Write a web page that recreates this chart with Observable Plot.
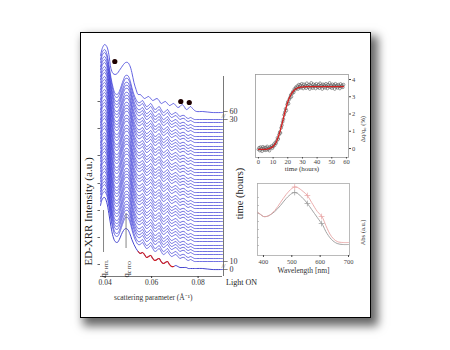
<!DOCTYPE html>
<html><head><meta charset="utf-8">
<script src="https://cdn.jsdelivr.net/npm/d3@7"></script>
<script src="https://cdn.jsdelivr.net/npm/@observablehq/plot@0.6"></script>
<style>
html,body{margin:0;padding:0;background:#fff;width:450px;height:350px;overflow:hidden;position:relative;}
#frame{position:absolute;left:80px;top:32px;width:291px;height:286px;box-sizing:border-box;border:1.5px solid #000;background:#fff;box-shadow:5px 6px 9px 2px rgba(0,0,0,0.6);}
.p{position:absolute;}
.p svg{overflow:visible;}
</style></head><body>
<div id="frame"></div>
<div id="main" class="p" style="left:80px;top:32px"></div>
<div id="ins1" class="p" style="left:240px;top:66px"></div>
<div id="ins2" class="p" style="left:240px;top:175px"></div>
<script>
// ---------- main waterfall (ED-XRR) ----------
const qGrid = [0.0380,0.0389,0.0398,0.0407,0.0416,0.0425,0.0434,0.0443,0.0452,0.0461,
  0.0470,0.0479,0.0488,0.0497,0.0506,0.0515,0.0524,0.0533,0.0542,0.0551,
  0.0560,0.0569,0.0578,0.0587,0.0596,0.0605,0.0614,0.0623,0.0632,0.0641,
  0.0650,0.0659,0.0668,0.0677,0.0686,0.0695,0.0704,0.0713,0.0722,0.0731,
  0.0740,0.0749,0.0758,0.0767,0.0776,0.0785,0.0794,0.0820,0.0860,0.0905];
// 60 h curve (top)
const curve60h = [221,229,232,230,222,208,203,202,203,206,
  209,212,214,214,211,204,194,187,182,182,
  180,178,179,180,178,176,177,178,176,173,
  174,175,173,171,172,173,171,169,170,172,
  170,167,168,170,168,166,165,165,164,164];
// 0 h curve (bottom, light ON)
const curve0h = [71,78,79,74,63,50,40,35,34,37,
  42,46,48,47,43,37,32,28,25,23,
  24,22,19,20,21,18,16,17,18,15,
  13,14,15,12,10,10,11,10,9,9,
  9,9,8,8,8,8,8,8,7,7];
// profile of the intermediate scans (height above their flat tail)
const scanProfile = [60,68,70,66,55,42,32,26,25,28,
  34,40,44,44,40,32,25,20,17,17,
  19,16,13,14,16,13,10,11,13,10,
  7,8,10,7,5,6,7,5,3,4,
  4,2,1,2,1,0,0,0,0,0];
// tail levels of the scans from 30 h (top) down to 10 h (bottom)
const scanLevels = [157,154,150,147,144,140,137,134,130,127,124,121,117,114,111,
  107,104,101,97,94,91,88,84,81,78,74,71,68,64,61,58,55,51,48,45,41,38,35,31,28,25,22,18,15];
const markerQ = [0.04415,0.07255,0.0762];
const markerV = [215,175,174];
const xTicks = [0.04,0.06,0.08];
const leftTicks = [175,148,121,93,66,39,12];
const timeLabels = ["60","30","10","0"];
const timeLevels = [165,157,15,7];
const breakLevels = [161,11];
const qcNames = ["HTL","ITO"];
const qcQ = [0.0393,0.0490];
const qcTop = [66,63];
const qcBottom = [24,28];

const serif = "'Liberation Serif', 'Times New Roman', serif";
const xMax = 0.0905;
const scans = [];
scanLevels.forEach((lv, i) => qGrid.forEach((q, j) => scans.push({id: i, q, v: lv + scanProfile[j]})));
const top60 = qGrid.map((q, j) => ({q, v: curve60h[j]}));
const bot0 = qGrid.map((q, j) => ({q, v: curve0h[j]}));
const fitSeg = bot0.slice(18, 36);
const markers = markerQ.map((q, i) => ({q, v: markerV[i]}));
const tTicks = timeLabels.map((l, i) => ({label: l, level: timeLevels[i]}));
const qc = qcNames.map((n, i) => ({name: "qc " + n, q: qcQ[i], y1: qcBottom[i], y2: qcTop[i]}));

const main = Plot.plot({
  width: 180, height: 280, marginLeft: 20, marginRight: 38, marginTop: 8, marginBottom: 36,
  style: {background: "none", fontFamily: serif, overflow: "visible"},
  x: {domain: [0.038, xMax], axis: null},
  y: {domain: [0, 236], axis: null},
  marks: [
    Plot.line(scans, {x: "q", y: "v", z: "id", stroke: "#3434d6", strokeWidth: 0.7, curve: "catmull-rom"}),
    Plot.line(top60, {x: "q", y: "v", stroke: "#4848dc", strokeWidth: 0.85, curve: "catmull-rom"}),
    Plot.line(bot0, {x: "q", y: "v", stroke: "#3030c8", strokeWidth: 0.9, curve: "catmull-rom"}),
    Plot.line(fitSeg, {x: "q", y: "v", stroke: "#d42222", strokeWidth: 1.1, curve: "catmull-rom"}),
    Plot.dot(markers, {x: "q", y: "v", r: 2.6, fill: "#1e0000", stroke: "none"}),
    Plot.ruleY([0], {x1: 0.038, x2: xMax, stroke: "#555", strokeWidth: 0.8}),
    Plot.axisX({ticks: xTicks, tickFormat: d3.format(".2f"), tickSize: 2, tickPadding: 1.5, fontSize: 7.5, label: null, color: "#333"}),
    Plot.axisY({anchor: "left", ticks: leftTicks, tickSize: 2.5, tickFormat: () => "", label: null, color: "#666"}),
    // time axis on the right
    Plot.ruleX([xMax], {y1: 0, y2: 200, dx: 1, stroke: "#555", strokeWidth: 0.8}),
    Plot.ruleY(tTicks, {y: "level", x1: xMax, x2: 0.0925, dx: 1, stroke: "#555", strokeWidth: 0.7}),
    Plot.text(tTicks, {x: xMax, y: "level", text: "label", dx: 7, textAnchor: "start", fontSize: 8, fill: "#333"}),
    Plot.text(breakLevels, {x: xMax, y: d => d, text: () => "//", dx: 1, fontSize: 7, fill: "#555"}),
    Plot.text(["time (hours)"], {x: xMax, y: 83, text: d => d, dx: 17, rotate: -90, fontSize: 10.5, fill: "#222"}),
    Plot.text(["Light ON"], {x: xMax, y: 0, text: d => d, dx: 19, dy: 6, fontSize: 8, fill: "#222"}),
    // critical-angle markers
    Plot.ruleX(qc, {x: "q", y1: "y1", y2: "y2", stroke: "#666", strokeWidth: 0.8}),
    Plot.text(qc, {x: "q", y: -1, text: "name", rotate: -90, textAnchor: "start", fontSize: 8.5, fill: "#222"}),
    // titles
    Plot.text(["scattering parameter (Å⁻¹)"], {x: 0.0607, y: 0, text: d => d, dy: 21, fontSize: 7.5, fill: "#333"}),
    Plot.text(["ED-XRR Intensity (a.u.)"], {x: 0.038, y: 65, text: d => d, dx: -12, rotate: -90, fontSize: 11, fill: "#222"})
  ]
});
document.getElementById("main").appendChild(main);
// subscripts for q_c labels
d3.select(main).selectAll("text").filter(function() { return /^qc (HTL|ITO)$/.test(this.textContent); })
  .each(function() {
    const t = this.textContent.split(" ")[1];
    const el = d3.select(this);
    el.text(null);
    el.append("tspan").text("q");
    el.append("tspan").attr("dy", 2).attr("font-size", 6).text("c");
    el.append("tspan").attr("font-size", 5).text(" " + t);
  });

// ---------- inset 1: q_c change vs time ----------
const insetTimes = [0,0.5,1,1.5,2,2.5,3,3.5,4,4.5,5,5.5,6,6.5,7,7.5,8,8.5,9,9.5,
  10,10.5,11,11.5,12,12.5,13,13.5,14,14.5,15,15.5,16,16.5,17,17.5,18,18.5,19,19.5,
  20,20.5,21,21.5,22,22.5,23,23.5,24,24.5,25,25.5,26,26.5,27,27.5,28,28.5,29,29.5,
  30,30.5,31,31.5,32,32.5,33,33.5,34,34.5,35,35.5,36,36.5,37,37.5,38,38.5,39,39.5,
  40,40.5,41,41.5,42,42.5,43,43.5,44,44.5,45,45.5,46,46.5,47,47.5,48,48.5,49,49.5,
  50,50.5,51,51.5,52,52.5,53,53.5,54,54.5,55,55.5,56,56.5,57,57.5,58];
const insetValues = [-0.05,0.05,-0.12,0.08,-0.02,-0.15,0.10,0.02,-0.08,0.06,
  -0.10,0.04,0.12,-0.06,0.01,-0.12,0.09,0.05,0.15,0.02,
  0.12,0.25,0.18,0.35,0.30,0.45,0.62,0.55,0.80,0.95,
  0.90,1.20,1.35,1.55,1.70,1.95,2.10,2.30,2.20,2.55,
  2.70,2.60,2.85,2.95,3.10,3.00,3.20,3.30,3.25,3.45,
  3.40,3.55,3.50,3.62,3.45,3.70,3.55,3.68,3.52,3.75,
  3.60,3.48,3.72,3.58,3.66,3.50,3.78,3.62,3.55,3.70,
  3.45,3.65,3.80,3.58,3.50,3.72,3.60,3.68,3.48,3.75,
  3.62,3.55,3.70,3.50,3.78,3.60,3.66,3.45,3.72,3.58,
  3.68,3.52,3.75,3.60,3.48,3.70,3.62,3.80,3.55,3.65,
  3.50,3.72,3.60,3.68,3.45,3.75,3.58,3.66,3.52,3.70,
  3.62,3.48,3.74,3.58,3.66,3.55,3.70];
const fitTimes = [0,2,4,6,8,10,12,14,16,18,20,22,24,26,28,30,32,34,36,38,40,42,44,46,48,50,52,54,56,58];
const fitValues = [-0.05,-0.05,-0.05,-0.03,0.02,0.12,0.35,0.80,1.40,2.10,2.70,3.10,3.35,3.48,3.54,3.57,3.58,3.59,
  3.59,3.59,3.59,3.59,3.59,3.59,3.59,3.59,3.59,3.59,3.59,3.59];
const ins1X = [0,10,20,30,40,50,60];
const ins1Y = [0,1,2,3,4];

const sc = insetTimes.map((t, i) => ({t, v: insetValues[i]}));
const fit = fitTimes.map((t, i) => ({t, v: fitValues[i]}));
const ins1 = Plot.plot({
  width: 130, height: 112, marginLeft: 15, marginRight: 22, marginTop: 8, marginBottom: 21,
  style: {background: "none", fontFamily: serif, overflow: "visible"},
  x: {domain: [-2, 61.4], axis: null},
  y: {domain: [-0.52, 4.29], axis: null},
  marks: [
    Plot.frame({stroke: "#999", strokeWidth: 0.8}),
    Plot.dot(sc, {x: "t", y: "v", r: 1.4, stroke: "#555", strokeWidth: 0.6, fill: "none"}),
    Plot.line(fit, {x: "t", y: "v", stroke: "#d42020", strokeWidth: 1.3, curve: "catmull-rom"}),
    Plot.axisX({ticks: ins1X, tickFormat: d3.format("d"), tickSize: 1.5, tickPadding: 0, fontSize: 6.5, label: null, color: "#444"}),
    Plot.axisY({anchor: "right", ticks: ins1Y, tickFormat: d3.format("d"), tickSize: 2, tickPadding: 1.5, fontSize: 6.5, label: null, color: "#444"}),
    Plot.text(["time (hours)"], {frameAnchor: "bottom", text: d => d, dy: 13.5, fontSize: 7, fill: "#333"}),
    Plot.text(["Δq/q₀ (%)"], {frameAnchor: "right", text: d => d, dx: 14, rotate: -90, fontSize: 6.5, fill: "#333"})
  ]
});
document.getElementById("ins1").appendChild(ins1);

// ---------- inset 2: absorption spectra ----------
const wavelengths = [380,390,400,410,420,440,460,480,500,510,520,540,555,570,590,600,610,620,640,660,680,700];
const absAfter = [43,41,39,39,40,45,53,61,67,68.5,68,64,60,53,44,41,37,30,19,14,13,13];
const absBefore = [43,41,39,39,40,44,50,57,62,63,62,57,52,46,38,34,30,24,16,12,11,11];
const markW = [510,555,605];
const markAfter = [68.5,60,39];
const markBefore = [63,52,32];
const ins2X = [400,500,600,700];
const ins2LeftTicks = [58,50,42,34,26,18,10];

const sA = wavelengths.map((w, i) => ({w, v: absAfter[i]}));
const sB = wavelengths.map((w, i) => ({w, v: absBefore[i]}));
const mA = markW.map((w, i) => ({w, v: markAfter[i]}));
const mB = markW.map((w, i) => ({w, v: markBefore[i]}));
const ins2 = Plot.plot({
  width: 130, height: 105, marginLeft: 17, marginRight: 21, marginTop: 8, marginBottom: 25,
  style: {background: "none", fontFamily: serif, overflow: "visible"},
  x: {domain: [379, 703.5], axis: null},
  y: {domain: [0, 72], axis: null},
  marks: [
    Plot.frame({stroke: "#aaa", strokeWidth: 0.8}),
    Plot.ruleY(ins2LeftTicks, {x1: 379, x2: 386, stroke: "#aaa", strokeWidth: 0.7}),
    Plot.line(sB, {x: "w", y: "v", stroke: "#999", strokeWidth: 0.9, curve: "catmull-rom"}),
    Plot.line(sA, {x: "w", y: "v", stroke: "#e8a4a4", strokeWidth: 0.9, curve: "catmull-rom"}),
    Plot.dot(mB, {x: "w", y: "v", symbol: "plus", r: 2, stroke: "#999", strokeWidth: 0.7}),
    Plot.dot(mA, {x: "w", y: "v", symbol: "plus", r: 2, stroke: "#e8a4a4", strokeWidth: 0.7}),
    Plot.axisX({ticks: ins2X, tickSize: 2, tickPadding: 1.5, fontSize: 6.5, label: null, color: "#444"}),
    Plot.text(["Wavelength [nm]"], {frameAnchor: "bottom", text: d => d, dy: 17, fontSize: 7.5, fill: "#333"}),
    Plot.text(["Abs (a.u.)"], {frameAnchor: "right", text: d => d, dx: 13, rotate: -90, fontSize: 6.5, fill: "#333"})
  ]
});
document.getElementById("ins2").appendChild(ins2);
</script>
</body></html>
